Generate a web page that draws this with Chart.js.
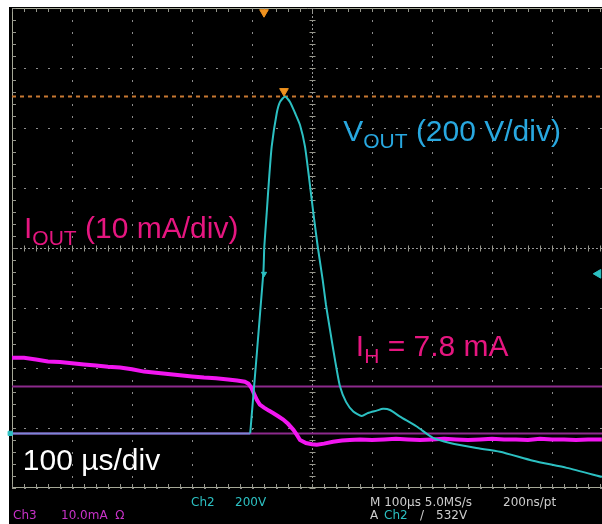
<!DOCTYPE html>
<html>
<head>
<meta charset="utf-8">
<script src="https://cdn.jsdelivr.net/npm/chart.js@4/dist/chart.umd.min.js"></script>
<style>
  html, body { margin: 0; padding: 0; background: #fff; overflow: hidden; }
  canvas { display: block; }
</style>
</head>
<body>
<canvas id="canvas" width="602" height="524"></canvas>
<script>
// time axis in µs, Vout in V (Ch2, 200 V/div), Iout in mA (Ch3, 10 mA/div)
const vTime = [-500, -103, -81, -79.5, -75.5, -71.7, -67.2, -58.8, -53.3, -45, -36.7, -28.3, -20, -11.7, -4.5, 2.2, 9.5, 17.8, 23.3, 30, 38.3, 46.7, 56.7, 68.8, 82.8, 93.3, 107.8, 118.3, 130, 146.7, 174.5, 201.7, 230, 271.7, 313.3, 368.3, 424.5, 483.3];
const vOut = [0, 0, 538, 623, 735, 845, 956, 1067, 1105, 1123, 1105, 1068, 1028, 956, 845, 735, 623, 512, 428, 345, 245, 156, 105, 73, 58, 68, 76, 82, 78, 56, 23, -15, -32, -48, -61, -91, -115, -145];

const iTime = [-500, -480, -460, -440, -420, -400, -380, -360, -340, -320, -300, -280, -260, -240, -220, -200, -180, -160, -140, -125, -112, -106, -101, -97, -92, -87, -80, -72, -65, -57, -48, -40, -31, -25, -20, -10, 0, 8, 20, 35, 50, 63, 80, 100, 120, 140, 160, 180, 200, 220, 240, 260, 280, 300, 320, 340, 360, 380, 400, 420, 440, 460, 483];
const iOut = [12.6, 12.6, 12.3, 12.0, 11.9, 11.7, 11.5, 11.3, 11.1, 11.0, 10.7, 10.3, 10.1, 9.9, 9.7, 9.5, 9.3, 9.2, 9.0, 8.8, 8.6, 8.3, 7.6, 6.7, 5.6, 4.8, 4.3, 3.8, 3.4, 2.9, 2.3, 1.6, 0.6, -0.3, -1.1, -1.6, -1.8, -1.9, -1.7, -1.4, -1.2, -1.1, -1.0, -1.1, -1.0, -0.9, -1.0, -1.1, -1.0, -0.9, -1.0, -1.1, -1.0, -0.9, -1.0, -1.0, -1.1, -0.9, -1.0, -1.0, -1.1, -1.0, -1.0];

const holdCurrent = 7.8;   // I_H cursor, mA
const peakVolt = 1123;     // cursor on Vout peak, V
const trigTime = -80;      // trigger position, µs
const trigLevel = 532;     // trigger level, V

const tMin = -500, tMax = 483.3;
const groundDiv = -3.09;   // both channels' ground, in divisions
const vPerDiv = 200, iPerDiv = 10;

const CYAN = 'rgb(44,192,194)';
const MAGENTA = 'rgb(242,22,240)';
const PURPLE = 'rgb(140,42,140)';
const ORANGE = 'rgb(240,146,30)';
const GRID = 'rgb(140,140,140)';
const FRAME = 'rgb(165,168,150)';

const pts = (xs, ys) => xs.map((x, i) => ({ x: x, y: ys[i] }));

// black screen behind the graticule
const screenBg = {
  id: 'screenBg',
  beforeDraw(chart) {
    const ctx = chart.ctx;
    ctx.save();
    ctx.fillStyle = '#fff';
    ctx.fillRect(0, 0, chart.width, chart.height);
    ctx.fillStyle = '#000';
    ctx.fillRect(9, 7, chart.width - 9, chart.height - 7);
    ctx.restore();
  }
};

// frame, center axes and minor ticks
const graticule = {
  id: 'graticule',
  beforeDatasetsDraw(chart) {
    const ctx = chart.ctx;
    const a = chart.chartArea;
    const x = chart.scales.x, y = chart.scales.y;
    const cx = Math.round(x.getPixelForValue(0)) + 0.5;
    const cy = Math.round(y.getPixelForValue(0)) + 0.5;
    ctx.save();
    ctx.lineWidth = 1;
    // center axes
    ctx.strokeStyle = 'rgb(150,150,150)';
    ctx.setLineDash([2, 2]);
    ctx.beginPath();
    ctx.moveTo(cx, a.top); ctx.lineTo(cx, a.bottom);
    ctx.moveTo(a.left, cy); ctx.lineTo(a.right, cy);
    ctx.stroke();
    ctx.setLineDash([]);
    // frame
    ctx.strokeStyle = FRAME;
    ctx.beginPath();
    ctx.moveTo(a.right, a.top + 0.5); ctx.lineTo(a.left + 0.5, a.top + 0.5);
    ctx.lineTo(a.left + 0.5, a.bottom - 0.5); ctx.lineTo(a.right, a.bottom - 0.5);
    ctx.stroke();
    // minor ticks
    ctx.beginPath();
    for (let t = tMin; t <= tMax; t += 20) {
      const px = Math.round(x.getPixelForValue(t)) + 0.5;
      ctx.moveTo(px, a.top); ctx.lineTo(px, a.top + 4);
      ctx.moveTo(px, a.bottom); ctx.lineTo(px, a.bottom - 4);
      ctx.moveTo(px, cy - 3); ctx.lineTo(px, cy + 3);
    }
    for (let d = -4; d <= 4.001; d += 0.2) {
      const py = Math.round(y.getPixelForValue(d)) + 0.5;
      ctx.moveTo(a.left, py); ctx.lineTo(a.left + 4, py);
      ctx.moveTo(cx - 3, py); ctx.lineTo(cx + 3, py);
    }
    ctx.strokeStyle = 'rgb(150,150,140)';
    ctx.stroke();
    ctx.restore();
  }
};

function subText(ctx, x, y, parts, size, color) {
  ctx.fillStyle = color;
  let px = x;
  parts.forEach(p => {
    const s = p.sub ? Math.round(size * 0.7) : size;
    ctx.font = s + 'px "Liberation Sans", Arial, sans-serif';
    ctx.fillText(p.t, px, y + (p.sub ? 7 : 0));
    px += ctx.measureText(p.t).width;
  });
}

// labels and scope status line
const labels = {
  id: 'labels',
  afterDraw(chart) {
    const ctx = chart.ctx;
    const x = chart.scales.x, y = chart.scales.y;
    ctx.save();
    ctx.textBaseline = 'alphabetic';
    subText(ctx, x.getPixelForValue(52), y.getPixelForValue(1.78),
      [{ t: 'V' }, { t: 'OUT', sub: true }, { t: ' (200 V/div)' }], 30, 'rgb(40,168,224)');
    subText(ctx, x.getPixelForValue(-480), y.getPixelForValue(0.17),
      [{ t: 'I' }, { t: 'OUT', sub: true }, { t: ' (10 mA/div)' }], 30, 'rgb(230,22,128)');
    subText(ctx, x.getPixelForValue(73), y.getPixelForValue(-1.8),
      [{ t: 'I' }, { t: 'H', sub: true }, { t: ' = 7.8 mA' }], 30, 'rgb(230,22,128)');
    subText(ctx, x.getPixelForValue(-482), y.getPixelForValue(-3.7),
      [{ t: '100 µs/div' }], 30, '#fff');

    const b = chart.chartArea.bottom;
    ctx.font = '12px "DejaVu Sans", sans-serif';
    const put = (t, px, dy, c) => { ctx.fillStyle = c; ctx.fillText(t, px, b + dy); };
    put('Ch2', 191, 18, CYAN);
    put('200V', 235, 18, CYAN);
    put('M 100µs 5.0MS/s', 370, 18, 'rgb(205,205,205)');
    put('200ns/pt', 503, 18, 'rgb(205,205,205)');
    put('Ch3', 13, 31, 'rgb(200,50,200)');
    put('10.0mA  Ω', 61, 31, 'rgb(200,50,200)');
    put('A', 370, 31, 'rgb(205,205,205)');
    put('Ch2', 384, 31, CYAN);
    put('/', 420, 31, 'rgb(205,205,205)');
    put('532V', 436, 31, 'rgb(205,205,205)');
    ctx.restore();
  }
};

const line = (data, yAxisID, color, width, order, extra) => Object.assign({
  data: data, yAxisID: yAxisID, borderColor: color, backgroundColor: color,
  borderWidth: width, pointRadius: 0, tension: 0, order: order, fill: false
}, extra || {});

const dataC = {
  datasets: [
    // markers
    {
      type: 'scatter', yAxisID: 'yV', order: 0, clip: false,
      data: [{ x: -46.7, y: 1141 }, { x: trigTime, y: trigLevel }, { x: 477, y: trigLevel }, { x: -503, y: 0 }],
      pointStyle: ['triangle', 'triangle', 'triangle', 'rect'],
      rotation: [180, 180, 270, 0],
      pointRadius: [5, 3, 5, 3],
      backgroundColor: [ORANGE, CYAN, CYAN, CYAN],
      borderColor: [ORANGE, CYAN, CYAN, CYAN],
      borderWidth: 1
    },
    {
      type: 'scatter', yAxisID: 'y', order: 0, clip: false,
      data: [{ x: trigTime, y: 3.93 }],
      pointStyle: 'triangle', rotation: 180, pointRadius: 5,
      backgroundColor: ORANGE, borderColor: ORANGE
    },
    line(pts(vTime.slice(1), vOut.slice(1)), 'yV', CYAN, 2, 1, { tension: 0.2 }),
    line(pts(iTime, iOut), 'yI', MAGENTA, 4, 2),
    line(pts(vTime.slice(0, 2), vOut.slice(0, 2)), 'yV', 'rgb(122,136,216)', 2, 3),
    line(pts([tMin, tMax], [0, 0]), 'yI', PURPLE, 2, 4),
    line(pts([tMin, tMax], [holdCurrent, holdCurrent]), 'yI', PURPLE, 2, 4),
    line(pts([tMin, tMax], [peakVolt, peakVolt]), 'yV', ORANGE, 2, 5, { borderDash: [4, 4], borderColor: 'rgb(200,120,50)' })
  ]
};

const noSize = s => { s.width = 0; s.height = 0; };

const config = {
  type: 'line',
  data: dataC,
  plugins: [screenBg, graticule, labels],
  options: {
    responsive: false,
    animation: false,
    devicePixelRatio: 1,
    events: [],
    layout: { padding: { left: 12, top: 8, right: 0, bottom: 36 }, autoPadding: false },
    plugins: { legend: { display: false }, tooltip: { enabled: false } },
    scales: {
      x: {
        type: 'linear', min: tMin, max: tMax,
        ticks: { display: false, stepSize: 100, includeBounds: false },
        grid: { color: GRID, lineWidth: 1, drawTicks: false },
        border: { display: false, dash: [2, 10] },
        afterFit: noSize
      },
      y: {
        min: -4, max: 4,
        ticks: { display: false, stepSize: 1 },
        grid: { color: GRID, lineWidth: 1, drawTicks: false },
        border: { display: false, dash: [2, 10] },
        afterFit: noSize
      },
      yV: { display: false, min: (-4 - groundDiv) * vPerDiv, max: (4 - groundDiv) * vPerDiv },
      yI: { display: false, min: (-4 - groundDiv) * iPerDiv, max: (4 - groundDiv) * iPerDiv }
    }
  }
};

const canvas = document.getElementById('canvas');
const chart = new Chart(canvas, config);
</script>
</body>
</html>
